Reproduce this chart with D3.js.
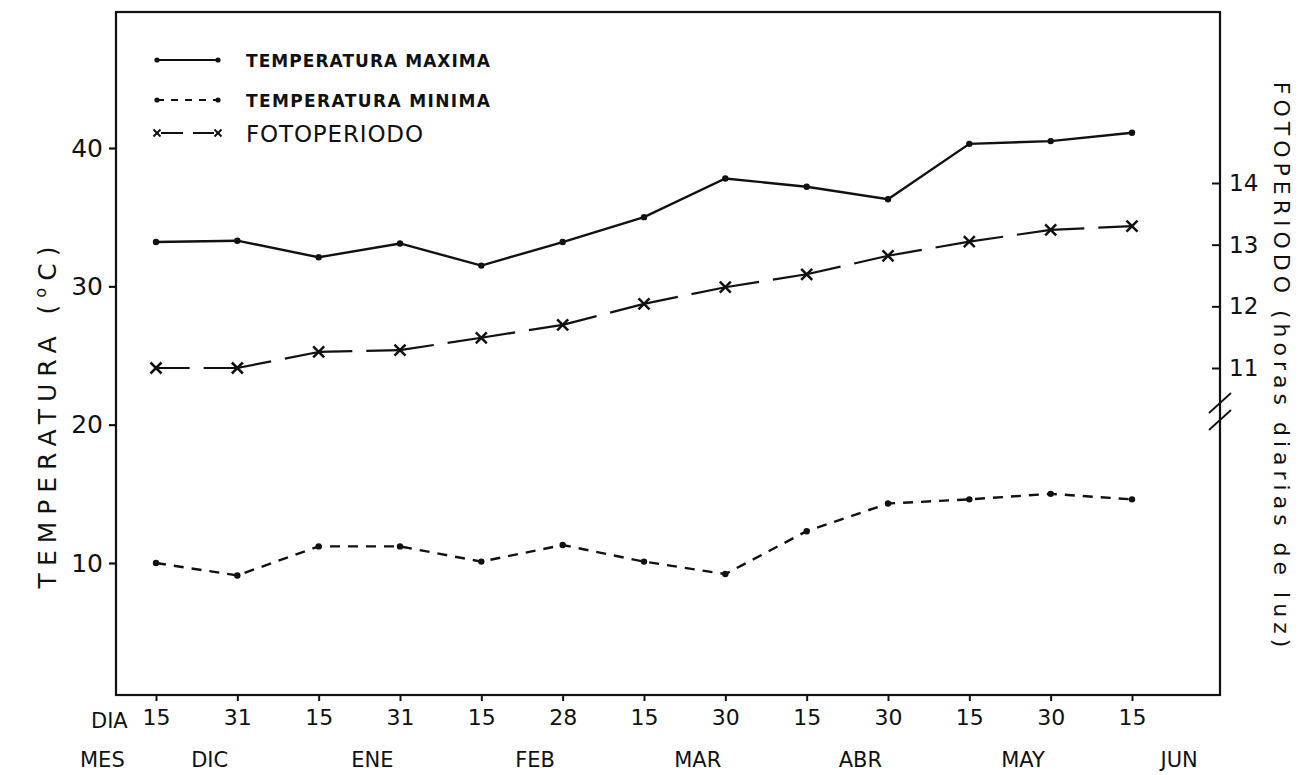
<!DOCTYPE html>
<html>
<head>
<meta charset="utf-8">
<script src="https://cdn.jsdelivr.net/npm/d3@7"></script>
<style>
  html, body { margin: 0; padding: 0; background: #fff; }
  svg text { font-family: "DejaVu Sans", sans-serif; fill: #111; }
</style>
</head>
<body>
<svg id="chart" width="1314" height="775"></svg>
<script>
// Sampling dates (day + month) along the x axis
const fechas = ["15 DIC","31 DIC","15 ENE","31 ENE","15 FEB","28 FEB","15 MAR","30 MAR","15 ABR","30 ABR","15 MAY","30 MAY","15 JUN"];
const dias   = ["15","31","15","31","15","28","15","30","15","30","15","30","15"];
const meses  = ["DIC","ENE","FEB","MAR","ABR","MAY","JUN"];
// first date of each month group (month label sits just right of it)
const mesInicio = ["15 DIC","15 ENE","15 FEB","15 MAR","15 ABR","15 MAY","15 JUN"];

// Series
const tempMaxima  = [33.2, 33.3, 32.1, 33.1, 31.5, 33.2, 35.0, 37.8, 37.2, 36.3, 40.3, 40.5, 41.1]; // °C
const tempMinima  = [10.0, 9.1, 11.2, 11.2, 10.1, 11.3, 10.1, 9.2, 12.3, 14.3, 14.6, 15.0, 14.6];   // °C
const fotoperiodo = [11.0, 11.0, 11.26, 11.29, 11.49, 11.70, 12.04, 12.31, 12.52, 12.82, 13.05, 13.24, 13.30]; // h

// Tick values
const ticksTemp = [10, 20, 30, 40];
const ticksFoto = [11, 12, 13, 14];

const svg = d3.select("#chart");
const ink = "#111";

// Plot frame
const frame = { left: 116, right: 1220, top: 12, bottom: 695 };

const x = d3.scalePoint().domain(fechas).range([156, 1132]);
const yT = d3.scaleLinear().domain([10, 40]).range([563, 148]);
const yF = d3.scaleLinear().domain([11, 14]).range([368, 183]);

// frame box
svg.append("rect")
  .attr("x", frame.left).attr("y", frame.top)
  .attr("width", frame.right - frame.left).attr("height", frame.bottom - frame.top)
  .attr("fill", "none").attr("stroke", ink).attr("stroke-width", 2.2);

// left axis
const gL = svg.append("g").attr("transform", `translate(${frame.left},0)`)
  .call(d3.axisLeft(yT).tickValues(ticksTemp).tickSize(7).tickPadding(5).tickFormat(d3.format("d")));
gL.select(".domain").remove();
gL.selectAll(".tick line").attr("stroke", ink).attr("stroke-width", 2.2);
gL.selectAll(".tick text").attr("font-size", 25).attr("fill", ink).attr("font-family", "DejaVu Sans")
  .attr("dx", -1);

// right axis (ticks point inward)
const gR = svg.append("g").attr("transform", `translate(${frame.right},0)`)
  .call(d3.axisRight(yF).tickValues(ticksFoto).tickSizeInner(-8).tickSizeOuter(0).tickPadding(9)
    .tickFormat(d3.format("d")));
gR.select(".domain").remove();
gR.selectAll(".tick line").attr("stroke", ink).attr("stroke-width", 2);
gR.selectAll(".tick text").attr("font-size", 23).attr("fill", ink).attr("font-family", "DejaVu Sans");

// axis break on the right axis
const brk = svg.append("g").attr("stroke", ink).attr("stroke-width", 1.8);
[0, 17].forEach(o => {
  brk.append("line")
    .attr("x1", frame.right - 11).attr("y1", 413 + o)
    .attr("x2", frame.right + 11).attr("y2", 393 + o);
});

// bottom axis
const gB = svg.append("g").attr("transform", `translate(0,${frame.bottom})`)
  .call(d3.axisBottom(x).tickSize(6).tickPadding(8).tickFormat((d, i) => dias[i]));
gB.select(".domain").remove();
gB.selectAll(".tick line").attr("stroke", ink).attr("stroke-width", 2);
gB.selectAll(".tick text").attr("font-size", 22).attr("fill", ink).attr("font-family", "DejaVu Sans");

// row titles
svg.append("text").attr("x", 91).attr("y", 728).attr("font-size", 21).text("DIA");
svg.append("text").attr("x", 80).attr("y", 767).attr("font-size", 21).text("MES");

// month labels
const step = x.step();
svg.append("g").selectAll("text").data(meses).join("text")
  .attr("x", (d, i) => x(mesInicio[i]) + step * (i === 6 ? 0.58 : 0.66))
  .attr("y", 767)
  .attr("text-anchor", "middle")
  .attr("font-size", 21)
  .text(d => d);

// axis titles
const tTemp = svg.append("text")
  .attr("transform", "translate(56,414) rotate(-90)")
  .attr("text-anchor", "middle").attr("font-size", 25).attr("letter-spacing", 7);
tTemp.append("tspan").text("TEMPERATURA  (");
tTemp.append("tspan").attr("font-size", 16).attr("dy", -10).text("o");
tTemp.append("tspan").attr("dy", 10).text("C)");

svg.append("text")
  .attr("transform", "translate(1274,367) rotate(90)")
  .attr("text-anchor", "middle").attr("font-size", 22).attr("letter-spacing", 5)
  .text("FOTOPERIODO  (horas diarias de luz)");

// ---- series ----
const line = (ys, vals) => d3.line().x((d, i) => x(fechas[i])).y(d => ys(d))(vals);

// maximum temperature: solid line with dots
svg.append("path").attr("d", line(yT, tempMaxima))
  .attr("fill", "none").attr("stroke", ink).attr("stroke-width", 2.4);
svg.append("g").selectAll("circle").data(tempMaxima).join("circle")
  .attr("cx", (d, i) => x(fechas[i])).attr("cy", d => yT(d)).attr("r", 3.2).attr("fill", ink);

// minimum temperature: dashes with dots
svg.append("path").attr("d", line(yT, tempMinima))
  .attr("fill", "none").attr("stroke", ink).attr("stroke-width", 2.4)
  .attr("stroke-dasharray", "10,8");
svg.append("g").selectAll("circle").data(tempMinima).join("circle")
  .attr("cx", (d, i) => x(fechas[i])).attr("cy", d => yT(d)).attr("r", 3.2).attr("fill", ink);

// photoperiod: two long dashes per interval, x markers
const gF = svg.append("g");
const pts = fotoperiodo.map((d, i) => [x(fechas[i]), yF(d)]);
for (let i = 0; i < pts.length - 1; i++) {
  const [x1, y1] = pts[i], [x2, y2] = pts[i + 1];
  const L = Math.hypot(x2 - x1, y2 - y1), gap = 14;
  gF.append("line")
    .attr("x1", x1).attr("y1", y1).attr("x2", x2).attr("y2", y2)
    .attr("stroke", ink).attr("stroke-width", 2.2)
    .attr("stroke-dasharray", `${(L - gap) / 2},${gap}`);
}
const cross = (g, cx, cy, s, w) => {
  g.append("line").attr("x1", cx - s).attr("y1", cy - s).attr("x2", cx + s).attr("y2", cy + s)
    .attr("stroke", ink).attr("stroke-width", w);
  g.append("line").attr("x1", cx - s).attr("y1", cy + s).attr("x2", cx + s).attr("y2", cy - s)
    .attr("stroke", ink).attr("stroke-width", w);
};
pts.forEach(([cx, cy]) => cross(gF, cx, cy, 5.5, 2.5));

// ---- legend ----
const lg = svg.append("g");
const lx1 = 157, lx2 = 218, tx = 246;
const rows = [60, 100, 133];
// row 1: solid
lg.append("line").attr("x1", lx1).attr("x2", lx2).attr("y1", rows[0]).attr("y2", rows[0])
  .attr("stroke", ink).attr("stroke-width", 2);
[lx1, lx2].forEach(cx => lg.append("circle").attr("cx", cx).attr("cy", rows[0]).attr("r", 2.6).attr("fill", ink));
lg.append("text").attr("x", tx).attr("y", rows[0] + 6.5).attr("font-size", 17).attr("font-weight", "bold")
  .attr("textLength", 244).attr("lengthAdjust", "spacing").text("TEMPERATURA MAXIMA");
// row 2: dashed
lg.append("line").attr("x1", lx1).attr("x2", lx2).attr("y1", rows[1]).attr("y2", rows[1])
  .attr("stroke", ink).attr("stroke-width", 2).attr("stroke-dasharray", "7,7");
[lx1, lx2].forEach(cx => lg.append("circle").attr("cx", cx).attr("cy", rows[1]).attr("r", 2.6).attr("fill", ink));
lg.append("text").attr("x", tx).attr("y", rows[1] + 6.5).attr("font-size", 17).attr("font-weight", "bold")
  .attr("textLength", 244).attr("lengthAdjust", "spacing").text("TEMPERATURA MINIMA");
// row 3: photoperiod
lg.append("line").attr("x1", lx1 + 4).attr("x2", lx2 - 4).attr("y1", rows[2]).attr("y2", rows[2])
  .attr("stroke", ink).attr("stroke-width", 2).attr("stroke-dasharray", "22,10");
cross(lg, lx1, rows[2], 3.5, 2);
cross(lg, lx2, rows[2], 3.5, 2);
lg.append("text").attr("x", tx).attr("y", rows[2] + 9).attr("font-size", 23)
  .attr("textLength", 177).attr("lengthAdjust", "spacing").text("FOTOPERIODO");
</script>
</body>
</html>
